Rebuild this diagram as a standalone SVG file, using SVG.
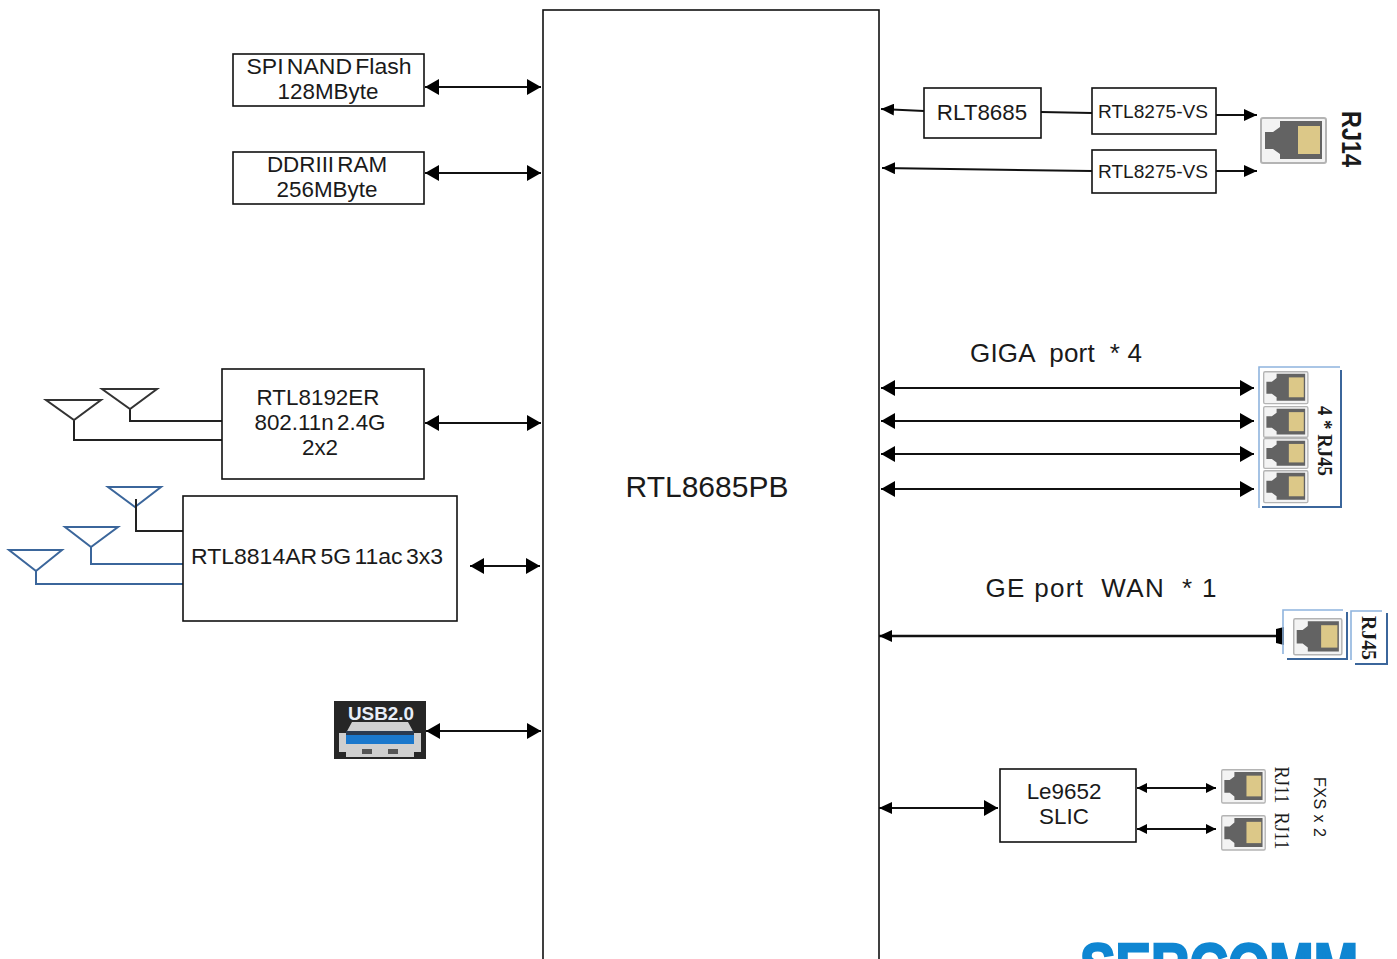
<svg xmlns="http://www.w3.org/2000/svg" width="1397" height="959" viewBox="0 0 1397 959">
<style>
text{font-family:"Liberation Sans",Arial,sans-serif;fill:#1a1a1a;text-anchor:middle}
.box{fill:#fff;stroke:#111;stroke-width:1.6}
.t{font-size:22.4px;word-spacing:-3px}
.s{font-size:18.5px}
.c{fill:none;stroke:#111;stroke-width:2}
.k{fill:none;stroke:#222;stroke-width:2}
.b{fill:none;stroke:#3b669b;stroke-width:2}
.ant{fill:#fff;stroke:#333;stroke-width:2}
.antb{fill:#fff;stroke:#3b669b;stroke-width:2}
.se{font-family:"Liberation Serif",serif;font-weight:bold}
</style>
<defs>
<marker id="a" viewBox="0 0 14 16" refX="14" refY="8" markerWidth="14" markerHeight="16" markerUnits="userSpaceOnUse" orient="auto-start-reverse"><path d="M0 0L14 8L0 16Z" fill="#000"/></marker>
<marker id="m" viewBox="0 0 13 12" refX="13" refY="6" markerWidth="13" markerHeight="12" markerUnits="userSpaceOnUse" orient="auto-start-reverse"><path d="M0 0L13 6L0 12Z" fill="#000"/></marker>
<marker id="n" viewBox="0 0 10 10" refX="10" refY="5" markerWidth="10" markerHeight="10" markerUnits="userSpaceOnUse" orient="auto-start-reverse"><path d="M0 0L10 5L0 10Z" fill="#000"/></marker>
<marker id="w" viewBox="0 0 8 16" refX="8" refY="8" markerWidth="8" markerHeight="16" markerUnits="userSpaceOnUse" orient="auto"><path d="M0 1L8 0V16L0 15Z" fill="#000"/></marker>
<g id="jack">
<rect x="1" y="1" width="65" height="45" rx="2" fill="#f3f3f3" stroke="#b4b4b4" stroke-width="2"/>
<path d="M20 4H62V42H20V37L13 32H5V15H13L20 10Z" fill="#636363"/>
<rect x="38" y="9" width="22" height="28" fill="#dcc888"/>
</g>
</defs>

<g id="connectors">
<path class="c" d="M425 87H541" marker-start="url(#a)" marker-end="url(#a)"/>
<path class="c" d="M425 173H541" marker-start="url(#a)" marker-end="url(#a)"/>
<path class="c" d="M425 423H541" marker-start="url(#a)" marker-end="url(#a)"/>
<path class="c" d="M470 566H540" marker-start="url(#a)" marker-end="url(#a)"/>
<path class="c" d="M426 731H541" marker-start="url(#a)" marker-end="url(#a)"/>
<path class="c" d="M881 109L924 111" marker-start="url(#m)"/>
<path class="c" d="M1041 112L1092 113"/>
<path class="c" d="M1216 115H1257" marker-end="url(#m)"/>
<path class="c" d="M882 168L1092 171" marker-start="url(#m)"/>
<path class="c" d="M1216 171H1257" marker-end="url(#m)"/>
<path class="c" d="M881 388H1254" marker-start="url(#a)" marker-end="url(#a)"/>
<path class="c" d="M881 421H1254" marker-start="url(#a)" marker-end="url(#a)"/>
<path class="c" d="M881 454H1254" marker-start="url(#a)" marker-end="url(#a)"/>
<path class="c" d="M881 489H1254" marker-start="url(#a)" marker-end="url(#a)"/>
<path class="c" style="stroke-width:2.5" d="M879 636H1284" marker-start="url(#m)"/>
<path d="M1276 629L1284 627V645L1276 643Z" fill="#000"/>
<path class="c" d="M879 808H998" marker-start="url(#m)" marker-end="url(#a)"/>
<path class="c" d="M1137 788H1216" marker-start="url(#n)" marker-end="url(#n)"/>
<path class="c" d="M1137 829H1216" marker-start="url(#n)" marker-end="url(#n)"/>
<path class="k" d="M130 409V421H222"/>
<path class="k" d="M74 420V440H222"/>
<path class="k" d="M136 505V531H183"/>
<path class="b" d="M91 547V564H183"/>
<path class="b" d="M36 571V584H183"/>
</g>

<g id="soc"><rect class="box" x="543" y="10" width="336" height="960"/><text x="707" y="497" font-size="30">RTL8685PB</text></g>
<g id="flash"><rect class="box" x="233" y="54" width="191" height="52"/><text class="t" x="329" y="74" textLength="165" lengthAdjust="spacingAndGlyphs">SPI NAND Flash</text><text class="t" x="328" y="99">128MByte</text></g>
<g id="ram"><rect class="box" x="233" y="152" width="191" height="52"/><text class="t" x="327" y="172">DDRIII RAM</text><text class="t" x="327" y="197">256MByte</text></g>
<g id="wifi24"><rect class="box" x="222" y="369" width="202" height="110"/><text class="t" x="318" y="405">RTL8192ER</text><text class="t" x="320" y="430">802.11n 2.4G</text><text class="t" x="320" y="455">2x2</text></g>
<g id="wifi5"><rect class="box" x="183" y="496" width="274" height="125"/><text class="t" x="317" y="564" textLength="252" lengthAdjust="spacingAndGlyphs">RTL8814AR 5G 11ac 3x3</text></g>
<g id="rlt"><rect class="box" x="924" y="88" width="117" height="50"/><text class="t" x="982" y="120">RLT8685</text></g>
<g id="vs1"><rect class="box" x="1092" y="88" width="124" height="46"/><text class="s" x="1153" y="118" textLength="110" lengthAdjust="spacingAndGlyphs">RTL8275-VS</text></g>
<g id="vs2"><rect class="box" x="1092" y="150" width="124" height="43"/><text class="s" x="1153" y="178" textLength="110" lengthAdjust="spacingAndGlyphs">RTL8275-VS</text></g>
<g id="slic"><rect class="box" x="1000" y="769" width="136" height="73"/><text class="t" x="1064" y="799">Le9652</text><text class="t" x="1064" y="824">SLIC</text></g>

<g id="antennas">
<path class="ant" d="M102 389H157L130 409Z"/>
<path class="ant" d="M46 400H101L74 420Z"/>
<path class="antb" d="M108 487H161L135 507Z"/>
<path class="antb" d="M65 527H118L91 547Z"/>
<path class="antb" d="M9 550H62L36 571Z"/>
<path class="k" d="M136 499V510"/>
</g>

<g id="usb">
<rect x="334" y="701" width="92" height="58" fill="#262626"/>
<path d="M352 722H408L414 733H421V752H414V757H346V752H339V733H346Z" fill="#cfcfcf"/>
<rect x="346" y="735" width="68" height="9" fill="#1b78cc"/>
<rect x="346" y="731" width="68" height="4" fill="#2a3a50"/>
<rect x="362" y="749" width="10" height="5" fill="#555"/><rect x="388" y="749" width="10" height="5" fill="#555"/>
<text x="381" y="720" font-size="19" font-weight="bold" style="fill:#e8eef8" textLength="66" lengthAdjust="spacingAndGlyphs">USB2.0</text>
</g>

<g id="rj14"><use href="#jack" transform="translate(1260 117)"/><text transform="translate(1342 139) rotate(90)" font-size="27" font-weight="bold" textLength="56" lengthAdjust="spacingAndGlyphs">RJ14</text></g>

<text id="giga" x="1056" y="362" font-size="26" textLength="172" lengthAdjust="spacing" xml:space="preserve">GIGA  port  * 4</text>

<g id="lan">
<path d="M1259 508V367H1340" fill="none" stroke="#8fb4de" stroke-width="1.6"/>
<path d="M1341 370V507H1262" fill="none" stroke="#3b669b" stroke-width="2"/>
<use href="#jack" transform="translate(1263 371) scale(.68 .71)"/>
<use href="#jack" transform="translate(1263 406) scale(.68 .68)"/>
<use href="#jack" transform="translate(1263 438) scale(.68 .66)"/>
<use href="#jack" transform="translate(1263 470) scale(.68 .71)"/>
<text class="se" transform="translate(1318 441) rotate(90)" font-size="20" textLength="70" lengthAdjust="spacingAndGlyphs">4 * RJ45</text>
</g>

<text id="ge" x="1101" y="597" font-size="26" textLength="231" lengthAdjust="spacing" xml:space="preserve">GE port  WAN  * 1</text>

<g id="wan">
<path d="M1283 654V610H1343" fill="none" stroke="#8fb4de" stroke-width="1.6"/>
<path d="M1347 612V659H1287" fill="none" stroke="#3b669b" stroke-width="2"/>
<use href="#jack" transform="translate(1293 618) scale(.74 .8)"/>
<path d="M1351 660V611H1382" fill="none" stroke="#8fb4de" stroke-width="1.6"/>
<path d="M1387 613V664H1355" fill="none" stroke="#3b669b" stroke-width="2"/>
<text class="se" transform="translate(1362 638) rotate(90)" font-size="20" textLength="44" lengthAdjust="spacingAndGlyphs">RJ45</text>
</g>

<g id="fxs">
<use href="#jack" transform="translate(1221 769) scale(.67 .74)"/>
<use href="#jack" transform="translate(1221 815) scale(.67 .76)"/>
<text transform="translate(1275 785) rotate(90)" class="se" font-size="20" style="font-weight:normal" textLength="37" lengthAdjust="spacingAndGlyphs">RJ11</text>
<text transform="translate(1275 831) rotate(90)" class="se" font-size="20" style="font-weight:normal" textLength="37" lengthAdjust="spacingAndGlyphs">RJ11</text>
<text transform="translate(1314 807) rotate(90)" font-size="16" textLength="60" lengthAdjust="spacing">FXS x 2</text>
</g>

<text id="logo" x="1219" y="989" font-size="64" font-weight="bold" style="fill:#0f86d2;stroke:#0f86d2;stroke-width:2.5" textLength="278" lengthAdjust="spacingAndGlyphs">SERCOMM</text>
</svg>
